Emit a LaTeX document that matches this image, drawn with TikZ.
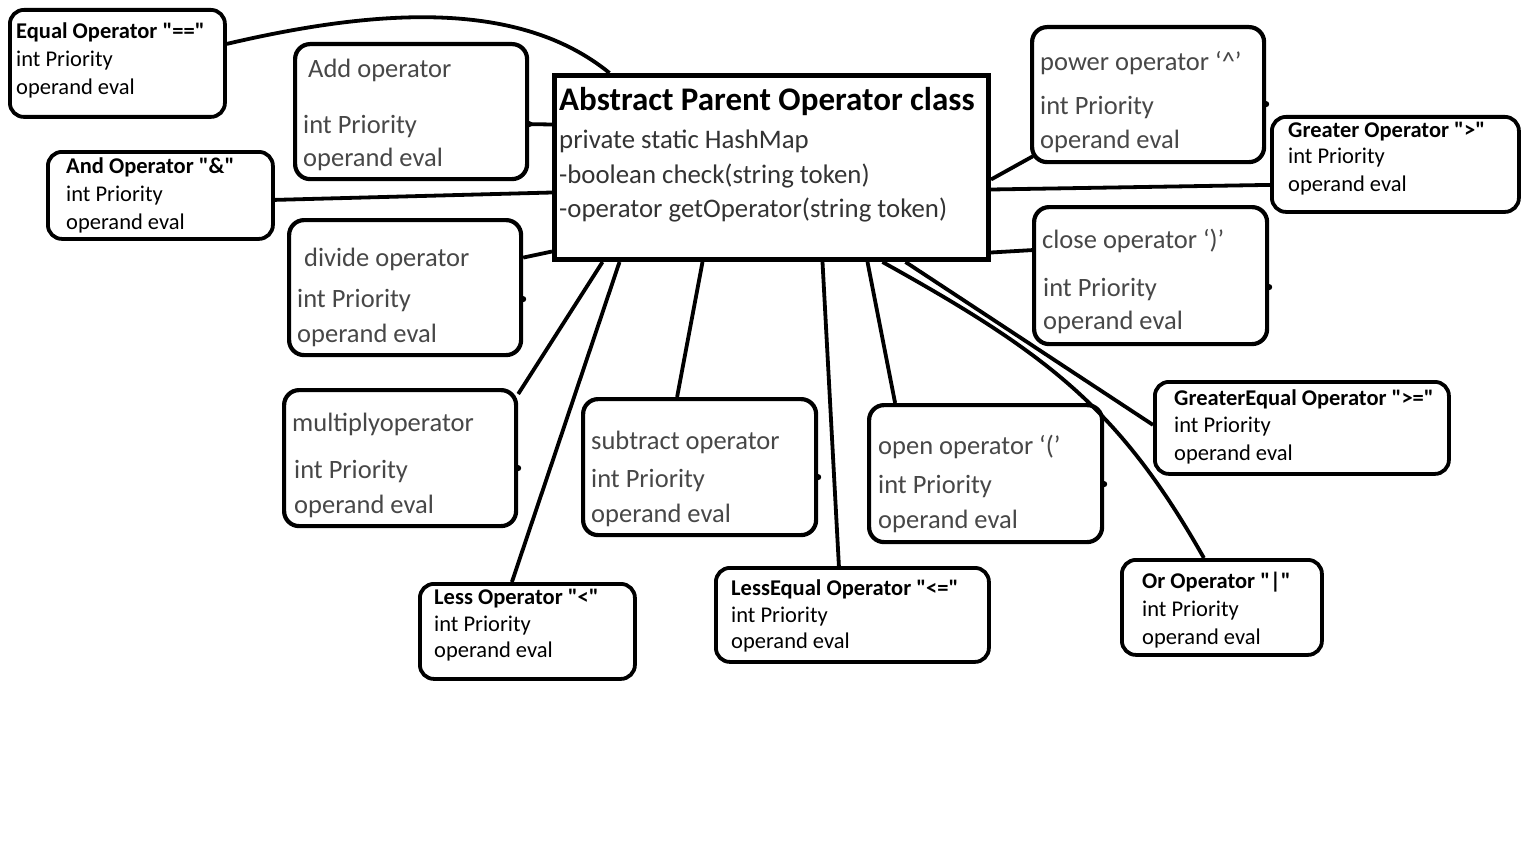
\documentclass[tikz,border=0pt]{standalone}
\usepackage{fontspec}
\setmainfont{Carlito}
\newcommand\qq{\textquotedbl}
\tikzset{
  x=1pt, y=-1pt,
  newbox/.style={draw, line width=3.8pt, rounded corners=14pt, fill=white, inner sep=0pt, anchor=north west},
  oldbox/.style={draw, line width=4.2pt, rounded corners=15pt, fill=white, inner sep=0pt, anchor=north west},
  absbox/.style={draw, line width=5pt, fill=white, inner sep=0pt, anchor=north west},
  newtxt/.style={inner sep=0pt, anchor=base west, font=\fontsize{22.5}{27}\selectfont},
  newtitle/.style={newtxt, font=\fontsize{22.5}{27}\selectfont\bfseries},
  oldtxt/.style={inner sep=0pt, anchor=base west, text=black!72, font=\fontsize{26.5}{30}\selectfont},
  abstitle/.style={inner sep=0pt, anchor=base west, font=\fontsize{33}{36}\selectfont\bfseries},
  conn/.style={line width=3.8pt},
  tick/.style={fill=black}
}
\begin{document}
\begin{tikzpicture}
\fill[white] (0,0) rectangle (1536,864);
\useasboundingbox (0,0) rectangle (1536,864);

% ---------- boxes ----------
\node[absbox, minimum width=434pt, minimum height=184pt] (abs) at (552,73) {};
\node[abstitle] (abs1) at (559,111) {Abstract Parent Operator class};
\node[oldtxt, text=black!80, font=\fontsize{26.8}{30}\selectfont] (abs2) at (559,148) {private static HashMap};
\node[oldtxt, text=black!80, font=\fontsize{26.8}{30}\selectfont] (abs3) at (559,183) {-boolean check(string token)};
\node[oldtxt, text=black!80, font=\fontsize{26.8}{30}\selectfont] (abs4) at (559,217) {-operator getOperator(string token)};

\node[newbox, minimum width=215pt, minimum height=107pt] (equal) at (8,8) {};
\node[newtitle] (equal1) at (16,39) {Equal Operator \qq==\qq};
\node[newtxt] (equal2) at (16,67) {int Priority};
\node[newtxt] (equal3) at (16,95) {operand eval};

\node[newbox, minimum width=225pt, minimum height=87pt] (and) at (46,150) {};
\node[newtitle] (and1) at (66,173) {And Operator \qq\&\qq};
\node[newtxt] (and2) at (66,201) {int Priority};
\node[newtxt] (and3) at (66,229) {operand eval};

\node[oldbox, minimum width=232pt, minimum height=135pt] (add) at (293,42) {};
\node[oldtxt] (add1) at (308,78) {Add operator};
\node[oldtxt] (add2) at (303,133) {int Priority};
\node[oldtxt] (add3) at (303,166) {operand eval};

\node[oldbox, minimum width=232pt, minimum height=135pt] (divide) at (287,218) {};
\node[oldtxt] (divide1) at (304,266) {divide operator};
\node[oldtxt] (divide2) at (297,307) {int Priority};
\node[oldtxt] (divide3) at (297,342) {operand eval};

\node[oldbox, minimum width=232pt, minimum height=136pt] (mult) at (282,388) {};
\node[oldtxt] (mult1) at (292,431) {multiplyoperator};
\node[oldtxt] (mult2) at (294,478) {int Priority};
\node[oldtxt] (mult3) at (294,513) {operand eval};

\node[oldbox, minimum width=233pt, minimum height=136pt] (sub) at (581,397) {};
\node[oldtxt] (sub1) at (591,449) {subtract operator};
\node[oldtxt] (sub2) at (591,487) {int Priority};
\node[oldtxt] (sub3) at (591,522) {operand eval};

\node[oldbox, minimum width=233pt, minimum height=137pt] (open) at (867,403) {};
\node[oldtxt] (open1) at (878,454) {open operator `('};
\node[oldtxt] (open2) at (878,493) {int Priority};
\node[oldtxt] (open3) at (878,528) {operand eval};

\node[oldbox, minimum width=232pt, minimum height=135pt] (power) at (1030,25) {};
\node[oldtxt] (power1) at (1040,71) {power operator `\textasciicircum'};
\node[oldtxt] (power2) at (1040,115) {int Priority};
\node[oldtxt] (power3) at (1040,149) {operand eval};

\node[oldbox, minimum width=233pt, minimum height=137pt] (close) at (1032,205) {};
\node[oldtxt] (close1) at (1042,248) {close operator `)'};
\node[oldtxt] (close2) at (1043,296) {int Priority};
\node[oldtxt] (close3) at (1043,329) {operand eval};

\node[newbox, minimum width=247pt, minimum height=95pt] (greater) at (1270,115) {};
\node[newtitle] (greater1) at (1288,138) {Greater Operator \qq>\qq};
\node[newtxt] (greater2) at (1288,164) {int Priority};
\node[newtxt] (greater3) at (1288,191) {operand eval};

\node[newbox, minimum width=294pt, minimum height=92pt] (ge) at (1153,380) {};
\node[newtitle] (ge1) at (1174,405) {GreaterEqual Operator \qq>=\qq};
\node[newtxt] (ge2) at (1174,432) {int Priority};
\node[newtxt] (ge3) at (1174,460) {operand eval};

\node[newbox, minimum width=200pt, minimum height=95pt] (or) at (1120,558) {};
\node[newtitle] (or1) at (1142,588) {Or Operator \qq|\qq};
\node[newtxt] (or2) at (1142,616) {int Priority};
\node[newtxt] (or3) at (1142,644) {operand eval};

\node[newbox, minimum width=273pt, minimum height=94pt] (le) at (714,566) {};
\node[newtitle] (le1) at (731,595) {LessEqual Operator \qq<=\qq};
\node[newtxt] (le2) at (731,622) {int Priority};
\node[newtxt] (le3) at (731,648) {operand eval};

\node[newbox, minimum width=215pt, minimum height=95pt] (less) at (418,582) {};
\node[newtitle] (less1) at (434,604) {Less Operator \qq<\qq};
\node[newtxt] (less2) at (434,631) {int Priority};
\node[newtxt] (less3) at (434,657) {operand eval};

% ---------- connectors ----------
\draw[conn] ([yshift=19.5pt]equal.east) .. controls (380,8) and (520,0) .. ([xshift=-162pt]abs.north);
\draw[conn] ([yshift=-12.5pt]add.east) -- ([yshift=43pt]abs.west);
\draw[conn] ([yshift=-4.5pt]and.east) -- ([yshift=-25pt]abs.west);
\draw[conn] ([yshift=30pt]divide.east) -- ([yshift=-84pt]abs.west);
\draw[conn] ([yshift=-6pt]mult.north east) -- ([xshift=-169pt]abs.south);
\draw[conn] ([xshift=-15.5pt]less.north) -- ([xshift=-152pt]abs.south);
\draw[conn] ([xshift=-22.5pt]sub.north) -- ([xshift=-69pt]abs.south);
\draw[conn] ([xshift=-13.5pt]le.north) -- ([xshift=51pt]abs.south);
\draw[conn] ([xshift=-90.5pt]open.north) -- ([xshift=96pt]abs.south);
\draw[conn] ([xshift=134pt]abs.south) -- ([yshift=3pt]ge.west);
\draw[conn] ([xshift=111pt]abs.south) .. controls (1050,355) and (1120,410) .. ([xshift=-18pt]or.north);
\draw[conn] ([xshift=3pt,yshift=8pt]power.south west) -- ([yshift=-12pt]abs.east);
\draw[conn] ([yshift=-20.5pt]greater.west) -- ([yshift=-22pt]abs.east);
\draw[conn] ([yshift=25.5pt]close.west) -- ([yshift=-85pt]abs.east);

% ---------- small ticks on right edges ----------
\fill[tick] ([yshift=-12.5pt]add.east) circle (3pt);
\fill[tick] ([yshift=-11.5pt]divide.east) circle (3pt);
\fill[tick] ([yshift=-10pt]mult.east) circle (3pt);
\fill[tick] ([yshift=-10pt]sub.east) circle (3pt);
\fill[tick] ([yshift=-10.5pt]open.east) circle (3pt);
\fill[tick] ([yshift=-9.5pt]power.east) circle (3pt);
\fill[tick] ([yshift=-11.5pt]close.east) circle (3pt);
\end{tikzpicture}
\end{document}
